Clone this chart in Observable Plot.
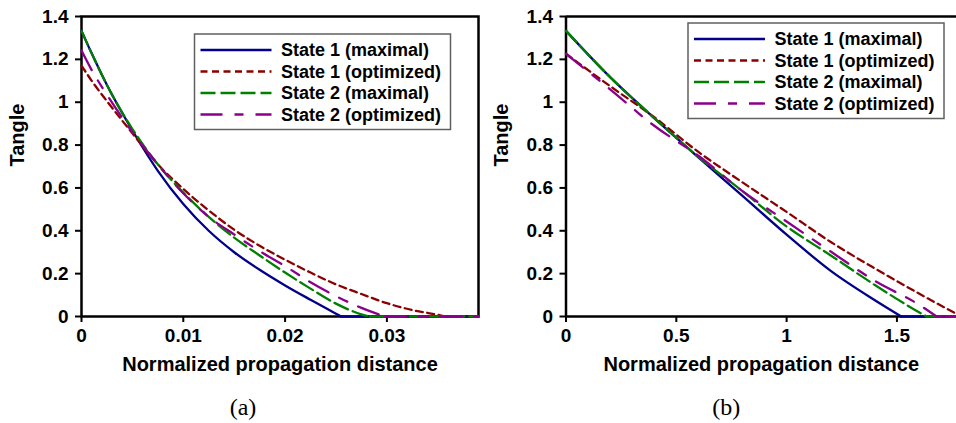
<!DOCTYPE html>
<html><head><meta charset="utf-8">
<script src="https://cdn.jsdelivr.net/npm/d3@7"></script>
<script src="https://cdn.jsdelivr.net/npm/@observablehq/plot@0.6"></script>
<style>
body{margin:0;background:#fff}
#wrap{display:flex;width:956px;height:423px;overflow:hidden}
</style>
</head><body><div id="wrap"></div>
<script>
const seriesNames = ["State 1 (maximal)", "State 1 (optimized)", "State 2 (maximal)", "State 2 (optimized)"];
const yTicks = [0, 0.2, 0.4, 0.6, 0.8, 1, 1.2, 1.4];
const xTicksA = [0, 0.01, 0.02, 0.03];
const xTicksB = [0, 0.5, 1, 1.5];
const xDomainA = [0, 0.039];
const xDomainB = [0, 1.77];
const yDomain = [0, 1.4];
const captions = ["(a)", "(b)"];
const xTitle = "Normalized propagation distance";
const yTitle = "Tangle";

// Panel (a)
const a_s1_max = [[0,1.333],[0.001,1.228],[0.0025,1.08],[0.005,0.868],[0.0075,0.68],[0.01,0.525],[0.0125,0.40],[0.015,0.30],[0.0175,0.218],[0.02,0.145],[0.0225,0.078],[0.025,0.013],[0.0255,0],[0.039,0]];
const a_s1_opt = [[0,1.171],[0.001,1.10],[0.0025,1.005],[0.005,0.855],[0.0075,0.71],[0.01,0.595],[0.0125,0.495],[0.015,0.405],[0.0175,0.33],[0.02,0.265],[0.0225,0.205],[0.025,0.15],[0.0275,0.105],[0.03,0.062],[0.0325,0.03],[0.035,0.008],[0.0357,0],[0.039,0]];
const a_s2_max = [[0,1.333],[0.001,1.228],[0.0025,1.08],[0.005,0.875],[0.0075,0.71],[0.01,0.578],[0.0125,0.465],[0.015,0.368],[0.0175,0.285],[0.02,0.205],[0.0225,0.13],[0.025,0.06],[0.0275,0.01],[0.0283,0],[0.039,0]];
const a_s2_opt = [[0,1.241],[0.001,1.15],[0.0025,1.035],[0.005,0.86],[0.0075,0.71],[0.01,0.575],[0.0125,0.465],[0.015,0.383],[0.0175,0.305],[0.02,0.235],[0.0225,0.16],[0.025,0.095],[0.0275,0.04],[0.0298,0],[0.039,0]];

// Panel (b)
const b_s1_max = [[0,1.333],[0.2,1.117],[0.4,0.926],[0.6,0.743],[0.8,0.563],[1.0,0.382],[1.2,0.213],[1.4,0.076],[1.52,0],[1.77,0]];
const b_s1_opt = [[0,1.226],[0.2,1.075],[0.4,0.93],[0.6,0.768],[0.8,0.626],[1.0,0.488],[1.2,0.348],[1.4,0.224],[1.6,0.107],[1.77,0.012]];
const b_s2_max = [[0,1.333],[0.2,1.117],[0.4,0.926],[0.6,0.745],[0.8,0.585],[1.0,0.42],[1.2,0.285],[1.4,0.147],[1.6,0.02],[1.635,0],[1.77,0]];
const b_s2_opt = [[0,1.226],[0.2,1.06],[0.4,0.89],[0.6,0.75],[0.8,0.585],[1.0,0.443],[1.2,0.303],[1.4,0.166],[1.6,0.055],[1.68,0],[1.77,0]];

const lineStyles = [
  {stroke: "#00008b", dash: null},
  {stroke: "#8b0000", dash: "7,4.5"},
  {stroke: "#008000", dash: "15,5"},
  {stroke: "#8b008b", dash: "22,12,9,12"}
];

// split a series at its first zero so the curve meets the axis with a corner
function splitAtZero(pts) {
  const k = pts.findIndex(p => p[1] === 0);
  if (k < 0) return [pts, null];
  return [pts.slice(0, k + 1), pts.slice(k)];
}

function panel(series, xDomain, xTicks, cfg) {
  const marks = [];
  if (cfg.fullFrame) {
    marks.push(Plot.frame({stroke: "black", strokeWidth: 2.5}));
  } else {
    marks.push(Plot.ruleY([yDomain[1]], {stroke: "black", strokeWidth: 2.5}));
    marks.push(Plot.ruleX([0], {stroke: "black", strokeWidth: 2.5}));
    marks.push(Plot.ruleY([0], {stroke: "black", strokeWidth: 2.5}));
  }
  marks.push(Plot.axisX({ticks: xTicks, tickFormat: d => String(d), tickSize: 6, tickPadding: 6, strokeWidth: 2, label: null}));
  marks.push(Plot.axisY({ticks: yTicks, tickFormat: d => String(d), tickSize: 6, tickPadding: 7, strokeWidth: 2, label: null}));
  series.forEach((pts, i) => {
    const [head, tail] = splitAtZero(pts);
    const common = {
      x: d => d[0], y: d => d[1],
      stroke: lineStyles[i].stroke, strokeWidth: 2.3,
      strokeDasharray: lineStyles[i].dash || undefined
    };
    if (tail) marks.push(Plot.line(tail, {...common, curve: "linear"}));
    marks.push(Plot.line(head, {...common, curve: "monotone-x"}));
  });
  marks.push(Plot.text([xTitle], {text: d => d, frameAnchor: "bottom", dy: 48, lineAnchor: "middle", fontSize: 20, fontWeight: "bold"}));
  marks.push(Plot.text([yTitle], {text: d => d, frameAnchor: "left", dx: -64, rotate: -90, lineAnchor: "middle", fontSize: 20, fontWeight: "bold"}));
  marks.push(Plot.text([cfg.caption], {text: d => d, frameAnchor: "bottom", dx: cfg.capDx, dy: 91, lineAnchor: "middle", fontSize: 24, fontWeight: "normal", fontFamily: "Liberation Serif, Times New Roman, serif"}));

  const svg = Plot.plot({
    width: cfg.width, height: 423,
    marginLeft: cfg.ml, marginRight: cfg.mr, marginTop: 16, marginBottom: 107,
    x: {domain: xDomain, label: null},
    y: {domain: yDomain, label: null},
    style: {fontFamily: "Liberation Sans, Arial, sans-serif", fontSize: "19px", fontWeight: "bold", color: "black", background: "white", overflow: "visible"},
    marks
  });

  // legend
  const L = cfg.legend;
  const g = d3.select(svg).append("g").attr("text-anchor", "start");
  g.append("rect").attr("x", L.x).attr("y", L.y).attr("width", 256).attr("height", 95.5)
    .attr("fill", "white").attr("stroke", "#606060").attr("stroke-width", 1.5);
  seriesNames.forEach((name, i) => {
    const yy = L.y + 16 + i * 21.5;
    g.append("line").attr("x1", L.x + 6).attr("x2", L.x + 77).attr("y1", yy).attr("y2", yy)
      .attr("stroke", lineStyles[i].stroke).attr("stroke-width", 2.3)
      .attr("stroke-dasharray", lineStyles[i].dash);
    g.append("text").attr("x", L.x + 86.5).attr("y", yy).attr("dy", "0.35em")
      .attr("text-anchor", "start")
      .attr("font-size", 18).attr("font-weight", "bold").attr("fill", "black").text(name);
  });
  return svg;
}

const wrap = document.getElementById("wrap");
wrap.appendChild(panel([a_s1_max, a_s1_opt, a_s2_max, a_s2_opt], xDomainA, xTicksA,
  {width: 480, ml: 81, mr: 2, fullFrame: true, caption: captions[0], capDx: -37, legend: {x: 194.5, y: 34}}));
wrap.appendChild(panel([b_s1_max, b_s1_opt, b_s2_max, b_s2_opt], xDomainB, xTicksB,
  {width: 476, ml: 85.5, mr: 0, fullFrame: false, caption: captions[1], capDx: -35, legend: {x: 208, y: 23}}));
</script>
</body></html>
